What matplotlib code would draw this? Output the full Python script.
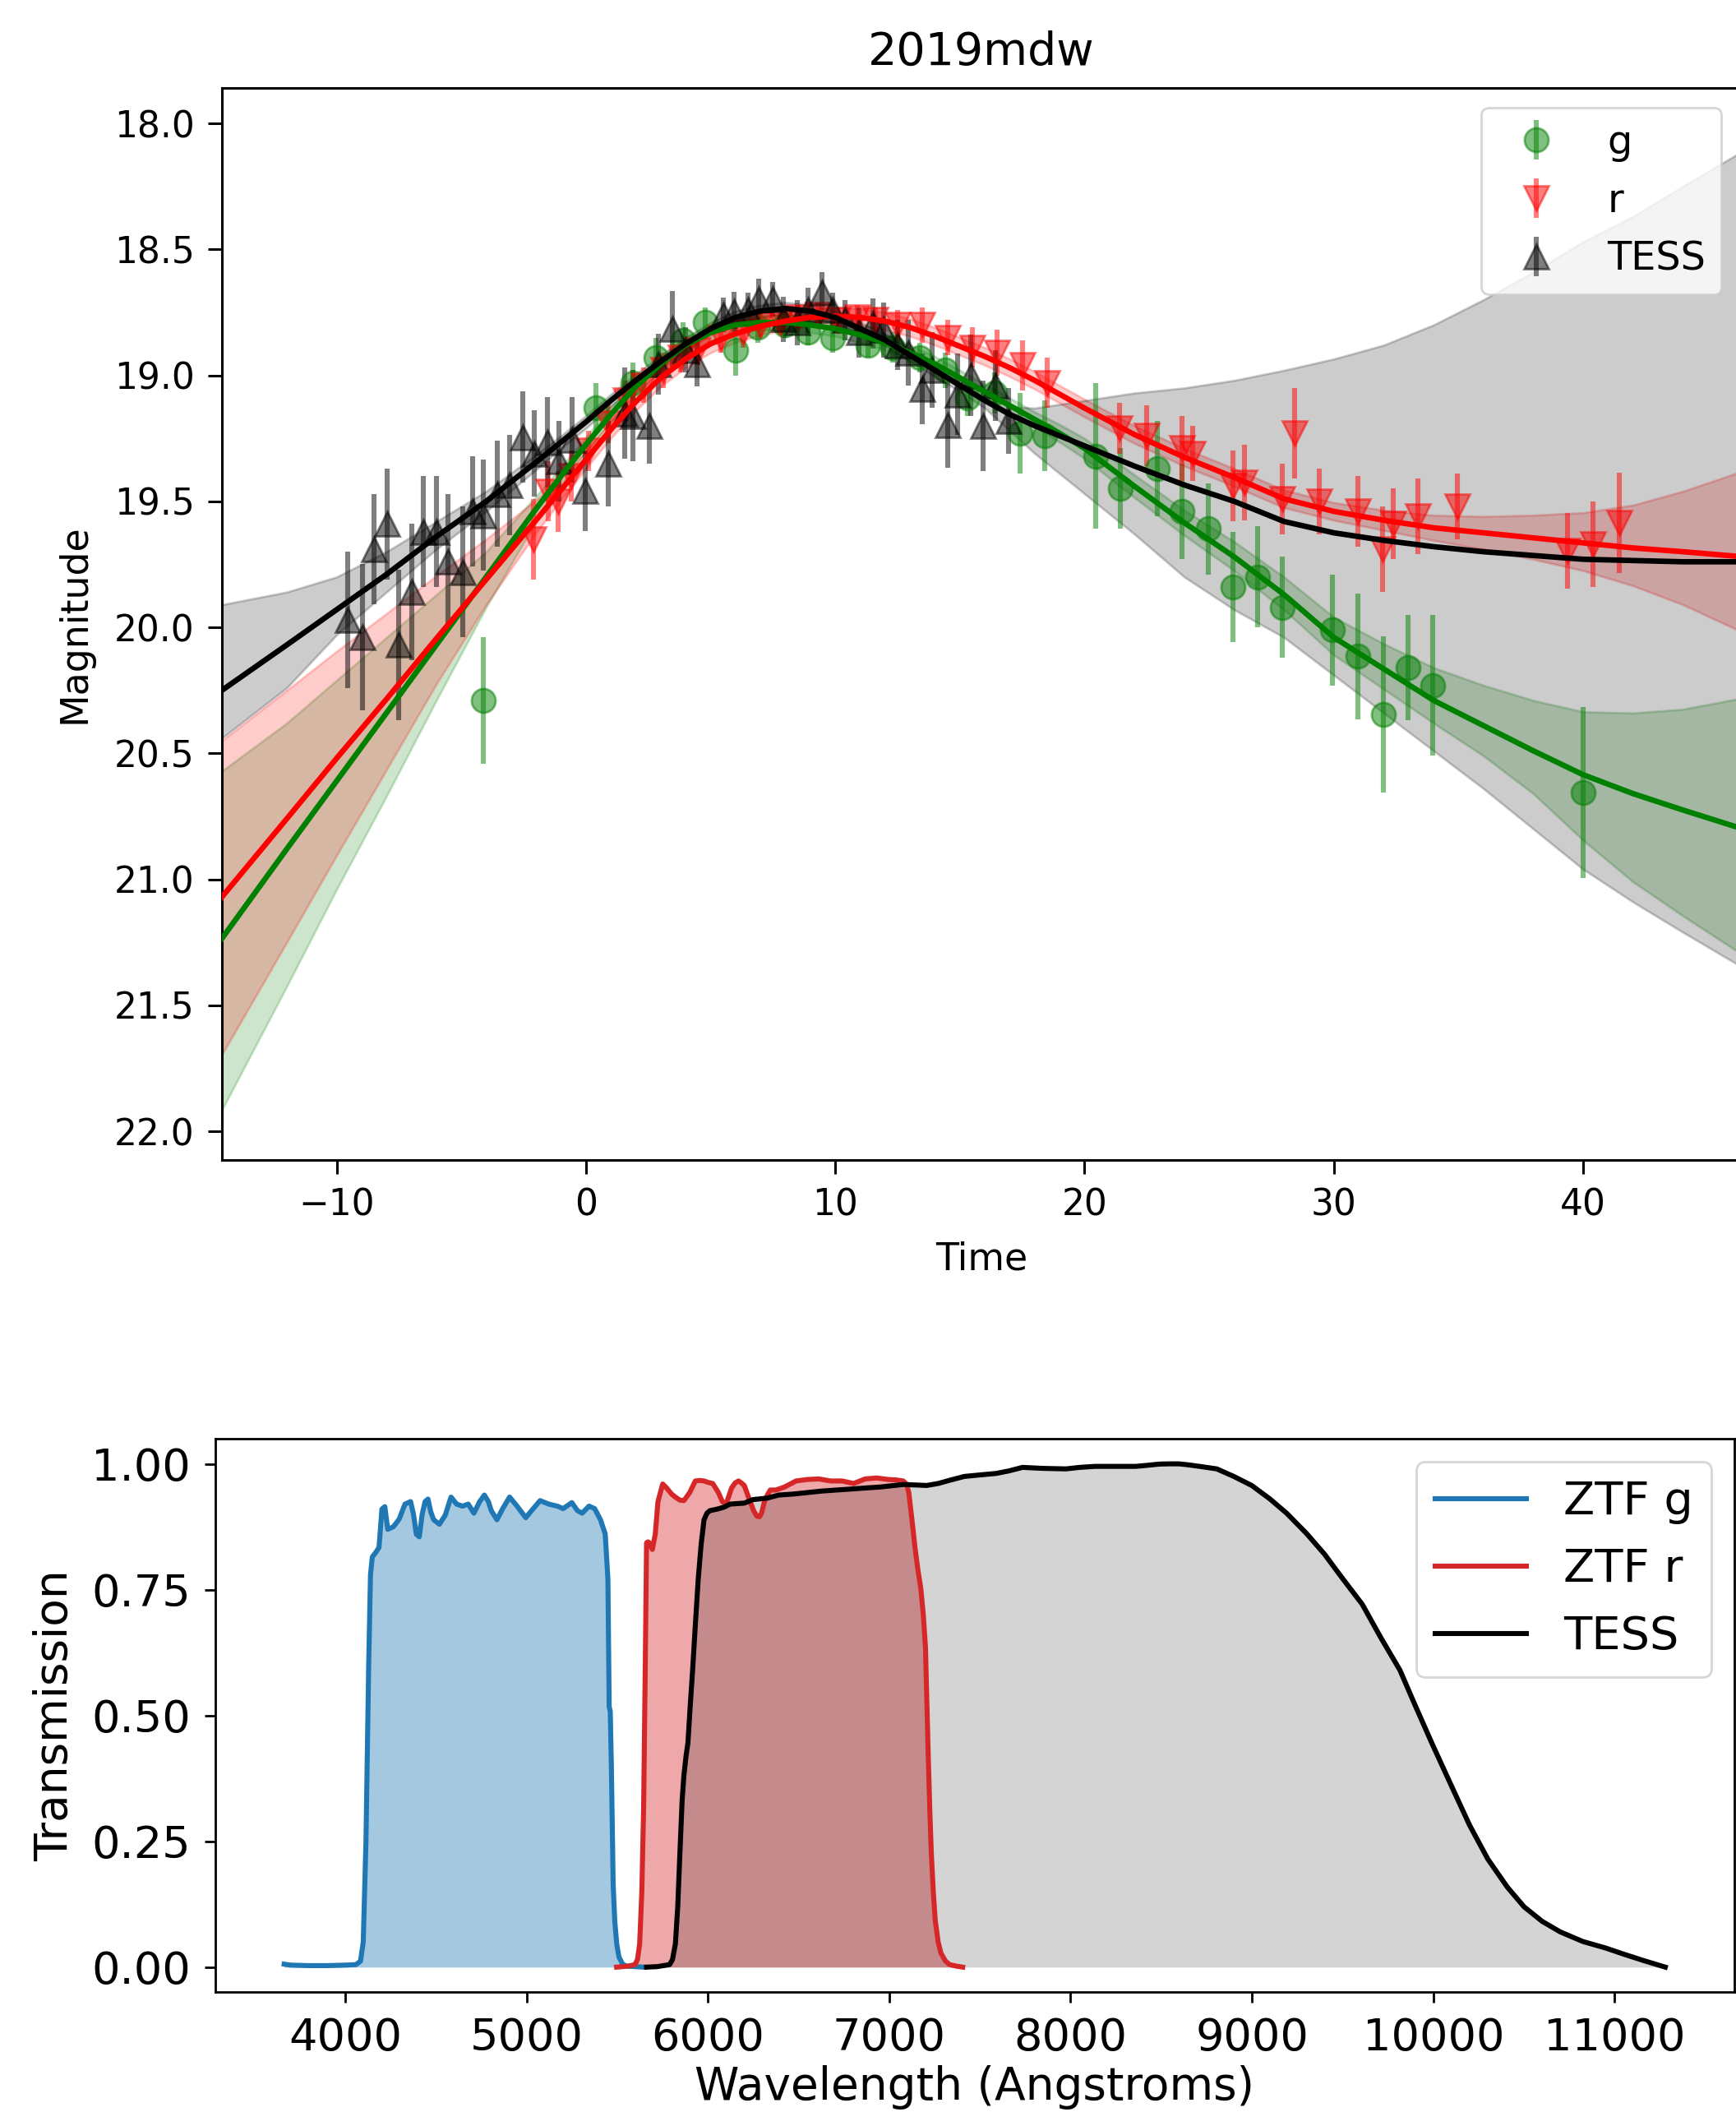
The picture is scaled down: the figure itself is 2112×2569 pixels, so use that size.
import matplotlib
matplotlib.use("Agg")
import matplotlib.pyplot as plt
import numpy as np

# ---------------- light curve photometry ----------------
g_t = [-4.1, 0.4, 1.9, 2.8, 3.9, 4.8, 6.0, 6.9, 8.0, 8.9, 9.9, 11.3, 12.3, 13.4,
       14.4, 15.3, 16.4, 17.4, 18.4, 20.45, 21.44, 22.92, 23.91, 24.96, 25.95,
       26.94, 27.93, 29.96, 30.95, 32.0, 32.99, 33.98, 40.0]
g_mag = [20.29, 19.13, 19.03, 18.93, 18.86, 18.79, 18.90, 18.81, 18.80, 18.83,
         18.85, 18.88, 18.89, 18.93, 18.98, 19.09, 19.07, 19.23, 19.24, 19.32,
         19.45, 19.37, 19.54, 19.61, 19.84, 19.80, 19.92, 20.01, 20.115, 20.345,
         20.16, 20.23, 20.655]
g_err = [0.25, 0.10, 0.08, 0.08, 0.07, 0.06, 0.10, 0.06, 0.05, 0.05, 0.06, 0.05,
         0.06, 0.06, 0.07, 0.07, 0.08, 0.16, 0.14, 0.29, 0.16, 0.19, 0.19, 0.18,
         0.22, 0.20, 0.20, 0.22, 0.25, 0.31, 0.21, 0.28, 0.34]

r_t = [-2.1, -1.5, -1.1, -0.6, 0.1, 0.9, 1.6, 2.3, 3.1, 3.8, 4.5, 5.4, 6.3, 7.0,
       7.8, 8.5, 9.3, 10.1, 10.9, 11.6, 12.5, 13.5, 14.5, 15.5, 16.5, 17.5, 18.5,
       21.4, 22.5, 23.9, 24.35, 25.95, 26.4, 27.93, 28.43, 29.42, 30.95, 31.94,
       32.38, 33.37, 34.96, 39.38, 40.4, 41.45]
r_mag = [19.65, 19.46, 19.50, 19.40, 19.30, 19.19, 19.10, 19.04, 18.98, 18.93,
         18.90, 18.85, 18.83, 18.80, 18.79, 18.77, 18.76, 18.78, 18.77, 18.78,
         18.80, 18.80, 18.85, 18.89, 18.91, 18.96, 19.03, 19.21, 19.24, 19.29,
         19.31, 19.44, 19.425, 19.49, 19.23, 19.50, 19.54, 19.69, 19.59, 19.56,
         19.52, 19.695, 19.67, 19.585]
r_err = [0.16, 0.12, 0.12, 0.10, 0.08, 0.08, 0.08, 0.07, 0.07, 0.06, 0.06, 0.06,
         0.06, 0.05, 0.05, 0.05, 0.05, 0.05, 0.05, 0.05, 0.06, 0.07, 0.07, 0.08,
         0.09, 0.10, 0.10, 0.10, 0.12, 0.13, 0.11, 0.14, 0.15, 0.14, 0.18, 0.13,
         0.14, 0.17, 0.14, 0.15, 0.13, 0.15, 0.17, 0.20]

tess_t = [-9.55, -8.95, -8.51, -7.96, -7.52, -6.97, -6.53, -5.98, -5.54, -4.93,
          -4.55, -4.11, -3.56, -3.07, -2.52, -2.08, -1.53, -1.09, -0.54, -0.04,
          0.89, 1.55, 1.88, 2.54, 2.92, 3.47, 4.0, 4.45, 5.51, 5.95, 6.5, 6.94,
          7.49, 7.93, 8.48, 8.92, 9.47, 9.91, 10.4, 10.95, 11.5, 11.94, 12.5,
          12.93, 13.48, 13.9, 14.51, 14.9, 15.44, 15.94, 16.43, 16.94]
tess_mag = [19.97, 20.04, 19.69, 19.59, 20.07, 19.86, 19.62, 19.62, 19.74, 19.78,
            19.54, 19.555, 19.47, 19.435, 19.245, 19.31, 19.265, 19.34, 19.255,
            19.457, 19.35, 19.15, 19.16, 19.20, 18.955, 18.815, 18.90, 18.955,
            18.76, 18.748, 18.742, 18.698, 18.698, 18.778, 18.79, 18.742, 18.672,
            18.742, 18.78, 18.83, 18.795, 18.82, 18.88, 18.91, 19.055, 18.98,
            19.196, 19.075, 19.0, 19.2, 19.04, 19.18]
tess_err = [0.27, 0.29, 0.22, 0.22, 0.30, 0.27, 0.22, 0.22, 0.27, 0.26, 0.22,
            0.22, 0.21, 0.20, 0.18, 0.17, 0.18, 0.16, 0.17, 0.16, 0.17, 0.18,
            0.18, 0.15, 0.12, 0.15, 0.09, 0.09, 0.07, 0.08, 0.07, 0.08, 0.07,
            0.09, 0.09, 0.09, 0.08, 0.07, 0.08, 0.10, 0.10, 0.11, 0.10, 0.13,
            0.14, 0.15, 0.17, 0.16, 0.16, 0.18, 0.14, 0.13]

# ---------------- model fits (mean and band offsets) ----------------
model_t = [-14.6, -12, -10, -8, -6, -4, -2, -1, 0, 1, 2, 3, 4, 5, 6, 7, 8, 9, 10,
           11, 12, 13, 14, 15, 16, 17, 18, 19, 20, 22, 24, 26, 28, 30, 32, 34, 36,
           38, 40, 42, 44, 46.4]

g_model = [21.235, 20.88, 20.61, 20.34, 20.07, 19.80, 19.53, 19.40, 19.275,
           19.155, 19.045, 18.955, 18.88, 18.83, 18.80, 18.79, 18.79, 18.80,
           18.815, 18.84, 18.87, 18.91, 18.955, 19.01, 19.065, 19.12, 19.175,
           19.23, 19.29, 19.44, 19.585, 19.72, 19.87, 20.04, 20.165, 20.29,
           20.39, 20.49, 20.585, 20.66, 20.725, 20.80]
g_up = [0.665, 0.50, 0.40, 0.30, 0.20, 0.10, 0.05, 0.035, 0.03, 0.03, 0.03, 0.03,
        0.03, 0.03, 0.03, 0.03, 0.03, 0.03, 0.03, 0.03, 0.03, 0.03, 0.03, 0.03,
        0.03, 0.03, 0.03, 0.035, 0.04, 0.045, 0.05, 0.06, 0.07, 0.08, 0.10, 0.13,
        0.16, 0.20, 0.25, 0.32, 0.40, 0.52]
g_dn = [0.68, 0.545, 0.43, 0.33, 0.22, 0.12, 0.05, 0.035, 0.03, 0.03, 0.03, 0.03,
        0.03, 0.03, 0.03, 0.03, 0.03, 0.03, 0.03, 0.03, 0.03, 0.03, 0.03, 0.03,
        0.03, 0.03, 0.03, 0.035, 0.04, 0.045, 0.05, 0.055, 0.06, 0.07, 0.08, 0.09,
        0.12, 0.17, 0.26, 0.35, 0.42, 0.50]

r_model = [21.07, 20.76, 20.52, 20.285, 20.045, 19.81, 19.575, 19.455, 19.335,
           19.215, 19.105, 19.01, 18.935, 18.875, 18.835, 18.805, 18.785, 18.77,
           18.765, 18.77, 18.785, 18.81, 18.845, 18.885, 18.925, 18.97, 19.02,
           19.075, 19.13, 19.235, 19.325, 19.405, 19.49, 19.54, 19.575, 19.605,
           19.625, 19.645, 19.665, 19.685, 19.70, 19.72]
r_up = [0.62, 0.51, 0.425, 0.34, 0.25, 0.16, 0.08, 0.05, 0.035, 0.035, 0.035,
        0.035, 0.035, 0.035, 0.035, 0.035, 0.035, 0.035, 0.035, 0.035, 0.035,
        0.035, 0.035, 0.035, 0.035, 0.035, 0.035, 0.035, 0.035, 0.035, 0.035,
        0.035, 0.035, 0.035, 0.04, 0.05, 0.065, 0.09, 0.12, 0.17, 0.24, 0.34]
r_dn = [0.625, 0.49, 0.385, 0.28, 0.18, 0.10, 0.05, 0.04, 0.035, 0.035, 0.035,
        0.035, 0.035, 0.035, 0.035, 0.035, 0.035, 0.035, 0.035, 0.035, 0.035,
        0.035, 0.035, 0.035, 0.035, 0.035, 0.035, 0.035, 0.035, 0.035, 0.035,
        0.035, 0.035, 0.035, 0.04, 0.05, 0.065, 0.085, 0.11, 0.15, 0.21, 0.30]

tess_model = [20.25, 20.07, 19.93, 19.79, 19.64, 19.50, 19.345, 19.265, 19.185,
              19.10, 19.02, 18.945, 18.875, 18.815, 18.77, 18.745, 18.735,
              18.745, 18.77, 18.815, 18.86, 18.92, 18.98, 19.04, 19.10, 19.155,
              19.20, 19.24, 19.28, 19.36, 19.435, 19.50, 19.58, 19.625, 19.655,
              19.68, 19.70, 19.715, 19.73, 19.735, 19.74, 19.74]
tess_hi = [19.91, 19.86, 19.80, 19.70, 19.58, 19.46, 19.315, 19.24, 19.16, 19.075,
           18.995, 18.92, 18.85, 18.79, 18.745, 18.72, 18.71, 18.72, 18.745,
           18.79, 18.835, 18.895, 18.955, 19.015, 19.075, 19.125, 19.13, 19.115,
           19.10, 19.07, 19.05, 19.02, 18.98, 18.935, 18.88, 18.80, 18.70, 18.59,
           18.47, 18.37, 18.25, 18.11]
tess_lo = [20.44, 20.24, 20.03, 19.86, 19.69, 19.54, 19.375, 19.29, 19.21, 19.125,
           19.045, 18.97, 18.90, 18.84, 18.795, 18.77, 18.76, 18.77, 18.795,
           18.84, 18.885, 18.945, 19.005, 19.065, 19.13, 19.22, 19.31, 19.39,
           19.47, 19.63, 19.80, 19.93, 20.04, 20.19, 20.34, 20.49, 20.64, 20.80,
           20.96, 21.09, 21.21, 21.35]

# ---------------- filter transmission curves ----------------
ztfg_wl = [3664, 3700, 3800, 3900, 4000, 4060, 4085, 4100, 4115, 4130, 4140, 4150,
           4171, 4187, 4203, 4219, 4235, 4266, 4298, 4330, 4361, 4377, 4393, 4409,
           4425, 4441, 4457, 4472, 4488, 4520, 4552, 4584, 4615, 4647, 4679, 4710,
           4742, 4768, 4790, 4806, 4837, 4869, 4907, 4948, 4996, 5028, 5075, 5123,
           5170, 5202, 5250, 5281, 5307, 5345, 5376, 5408, 5434, 5449, 5456, 5462,
           5468, 5478, 5487, 5498, 5510, 5530, 5551, 5600, 5646]
ztfg_tr = [0.006, 0.004, 0.003, 0.003, 0.004, 0.005, 0.012, 0.05, 0.25, 0.60,
           0.78, 0.815, 0.825, 0.834, 0.91, 0.915, 0.87, 0.875, 0.89, 0.92, 0.925,
           0.90, 0.86, 0.855, 0.90, 0.925, 0.93, 0.905, 0.889, 0.88, 0.898, 0.934,
           0.92, 0.916, 0.92, 0.902, 0.925, 0.938, 0.925, 0.907, 0.889, 0.911,
           0.934, 0.916, 0.893, 0.907, 0.927, 0.92, 0.916, 0.911, 0.923, 0.907,
           0.902, 0.916, 0.911, 0.889, 0.861, 0.771, 0.517, 0.508, 0.40, 0.164,
           0.09, 0.045, 0.02, 0.006, 0.002, 0.001, 0.0]

ztfr_wl = [5497, 5560, 5598, 5612, 5624, 5636, 5646, 5655, 5662, 5670, 5678, 5694,
           5710, 5725, 5751, 5773, 5800, 5821, 5845, 5868, 5900, 5931, 5955, 5979,
           6003, 6027, 6058, 6080, 6100, 6115, 6131, 6150, 6169, 6185, 6201, 6233,
           6255, 6271, 6285, 6296, 6312, 6328, 6344, 6375, 6423, 6486, 6550, 6613,
           6677, 6740, 6804, 6867, 6930, 6994, 7040, 7077, 7095, 7108, 7125, 7142,
           7158, 7174, 7188, 7200, 7208, 7216, 7224, 7232, 7243, 7254, 7270, 7285,
           7310, 7333, 7370, 7405]
ztfr_tr = [0.0, 0.002, 0.005, 0.015, 0.046, 0.15, 0.318, 0.60, 0.843, 0.845, 0.843,
           0.83, 0.86, 0.925, 0.96, 0.952, 0.94, 0.934, 0.928, 0.927, 0.943, 0.966,
           0.967, 0.966, 0.963, 0.961, 0.943, 0.925, 0.92, 0.935, 0.952, 0.962,
           0.966, 0.962, 0.957, 0.925, 0.905, 0.896, 0.895, 0.902, 0.925, 0.938,
           0.948, 0.948, 0.954, 0.966, 0.969, 0.97, 0.966, 0.966, 0.961, 0.97,
           0.972, 0.969, 0.968, 0.966, 0.96, 0.943, 0.89, 0.834, 0.79, 0.753, 0.70,
           0.635, 0.52, 0.409, 0.31, 0.227, 0.15, 0.092, 0.05, 0.028, 0.012, 0.005,
           0.002, 0.0]

tess_wl = [5662, 5720, 5789, 5805, 5821, 5834, 5846, 5858, 5868, 5880, 5890, 5903,
           5916, 5931, 5947, 5963, 5979, 5995, 6011, 6050, 6090, 6122, 6160, 6201,
           6249, 6328, 6391, 6470, 6550, 6630, 6709, 6790, 6867, 6950, 7077, 7150,
           7206, 7270, 7340, 7414, 7500, 7590, 7660, 7735, 7850, 7975, 8050, 8135,
           8250, 8359, 8420, 8487, 8540, 8599, 8650, 8711, 8806, 8900, 8999, 9100,
           9191, 9300, 9399, 9500, 9608, 9710, 9816, 9900, 9992, 10100, 10200,
           10300, 10408, 10500, 10600, 10700, 10824, 10950, 11048, 11160, 11279]
tess_tr = [0.0, 0.001, 0.005, 0.015, 0.046, 0.12, 0.227, 0.33, 0.381, 0.42, 0.445,
           0.52, 0.59, 0.68, 0.771, 0.84, 0.889, 0.902, 0.907, 0.91, 0.914, 0.92,
           0.921, 0.922, 0.929, 0.932, 0.938, 0.94, 0.943, 0.946, 0.948, 0.95,
           0.952, 0.954, 0.959, 0.958, 0.957, 0.961, 0.968, 0.975, 0.978, 0.981,
           0.986, 0.993, 0.991, 0.99, 0.993, 0.995, 0.995, 0.995, 0.997, 0.9995,
           1.0, 1.0, 0.998, 0.995, 0.99, 0.975, 0.957, 0.93, 0.902, 0.862, 0.821,
           0.772, 0.721, 0.655, 0.59, 0.52, 0.445, 0.36, 0.282, 0.215, 0.159,
           0.12, 0.091, 0.07, 0.051, 0.038, 0.026, 0.013, 0.0]

W, H = 2112, 2569
fig = plt.figure(figsize=(W / 200, H / 200), dpi=200)

# ---------------- top: light curve ----------------
ax1 = fig.add_axes([270 / W, 1 - 1411 / H, (2118 - 270) / W, (1411 - 106.8) / H])

mt = np.array(model_t)
bands = [
    (np.array(g_model) - np.array(g_up), np.array(g_model) + np.array(g_dn), 'green'),
    (np.array(r_model) - np.array(r_up), np.array(r_model) + np.array(r_dn), 'red'),
    (np.array(tess_hi), np.array(tess_lo), 'black'),
]
for hi, lo, c in bands:
    ax1.fill_between(mt, hi, lo, color=c, alpha=0.2, zorder=1)

eb_kw = dict(alpha=0.5, ms=10.5, elinewidth=2.2, linestyle='none', zorder=2)
ax1.errorbar(g_t, g_mag, yerr=g_err, fmt='o', color='green', label='g', **eb_kw)
ax1.errorbar(r_t, r_mag, yerr=r_err, fmt='v', color='red', label='r', **eb_kw)
ax1.errorbar(tess_t, tess_mag, yerr=tess_err, fmt='^', color='black', label='TESS', **eb_kw)

ax1.plot(mt, g_model, color='green', lw=2.4, zorder=3)
ax1.plot(mt, r_model, color='red', lw=2.4, zorder=3)
ax1.plot(mt, tess_model, color='black', lw=2.4, zorder=3)

ax1.set_xlim(-14.6, 46.33)
ax1.set_ylim(22.114, 17.859)
ax1.set_xticks([-10, 0, 10, 20, 30, 40])
ax1.set_yticks([18.0, 18.5, 19.0, 19.5, 20.0, 20.5, 21.0, 21.5, 22.0])
ax1.tick_params(labelsize=15.8, length=6, width=1.1, pad=6)
for s in ax1.spines.values():
    s.set_linewidth(1.1)
ax1.set_title('2019mdw', fontsize=20, pad=10)
ax1.set_xlabel('Time', fontsize=16.5, labelpad=8)
ax1.set_ylabel('Magnitude', fontsize=16.5, labelpad=9)
ax1.legend(loc='upper right', fontsize=17.2)

# ---------------- bottom: filter transmission ----------------
ax2 = fig.add_axes([261.7 / W, 1 - 2423.4 / H, (2110 - 261.7) / W, (2423.4 - 1750) / H])
ax2.plot(ztfg_wl, ztfg_tr, color='tab:blue', lw=2.2, label='ZTF g')
ax2.fill_between(ztfg_wl, ztfg_tr, color='tab:blue', alpha=0.4, lw=0)
ax2.plot(ztfr_wl, ztfr_tr, color='tab:red', lw=2.2, label='ZTF r')
ax2.fill_between(ztfr_wl, ztfr_tr, color='tab:red', alpha=0.4, lw=0)
ax2.plot(tess_wl, tess_tr, color='black', lw=2.2, label='TESS')
ax2.fill_between(tess_wl, tess_tr, color='black', alpha=0.17, lw=0)

ax2.set_xticks([4000, 5000, 6000, 7000, 8000, 9000, 10000, 11000])
ax2.set_yticks([0.0, 0.25, 0.5, 0.75, 1.0])
ax2.tick_params(labelsize=19.5, length=4.8, width=1.0, pad=6)
for s in ax2.spines.values():
    s.set_linewidth(1.0)
ax2.set_xlabel('Wavelength (Angstroms)', fontsize=19.8, labelpad=2.5)
ax2.set_ylabel('Transmission', fontsize=19.8, labelpad=6)
ax2.legend(loc='upper right', fontsize=20.1)

fig.savefig('out.png', dpi=200)
